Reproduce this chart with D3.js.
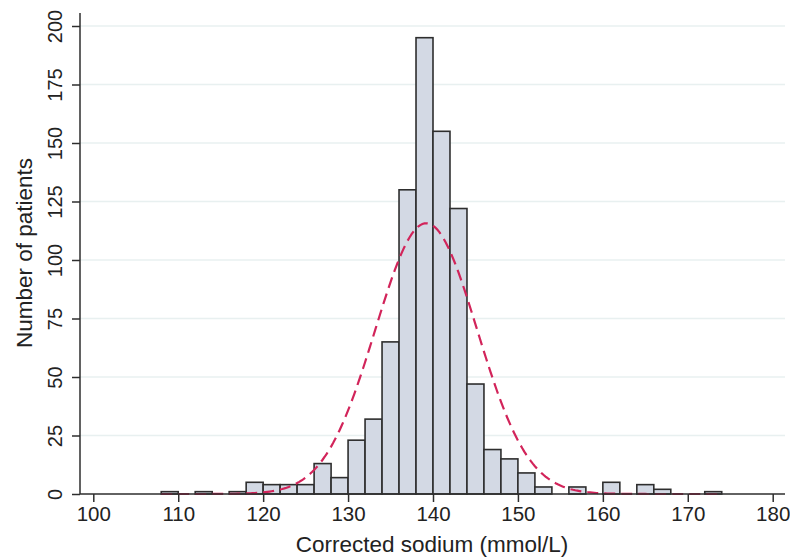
<!DOCTYPE html>
<html>
<head>
<meta charset="utf-8">
<script src="https://cdn.jsdelivr.net/npm/d3@7"></script>
<style>
  html, body { margin: 0; padding: 0; background: #fff; }
  svg { display: block; font-family: "Liberation Sans", Arial, sans-serif; }
</style>
</head>
<body>
<svg id="chart" width="790" height="560"></svg>
<script>
// Histogram bins: lower edge of each 2 mmol/L bin and its patient count
const binStarts = [108, 110, 112, 114, 116, 118, 120, 122, 124, 126, 128, 130, 132,
                   134, 136, 138, 140, 142, 144, 146, 148, 150, 152, 154, 156, 158,
                   160, 162, 164, 166, 168, 170, 172];
const binCounts = [1, 0, 1, 0, 1, 5, 4, 4, 4, 13, 7, 23, 32,
                   65, 130, 195, 155, 122, 47, 19, 15, 9, 3, 0, 3, 0,
                   5, 0, 4, 2, 0, 0, 1];
const binWidth = 2;

// Fitted normal curve parameters
const fitMean = 139.2;
const fitSD = 6.0;

const xTicks = [100, 110, 120, 130, 140, 150, 160, 170, 180];
const yTicks = [0, 25, 50, 75, 100, 125, 150, 175, 200];

const svg = d3.select("#chart");

const x = d3.scaleLinear().domain([100, 180]).range([93.3, 772.7]);
const y = d3.scaleLinear().domain([0, 200]).range([494, 26]);

const plotLeft = 80, plotRight = 785, plotTop = 13;

// horizontal grid lines
svg.append("g")
  .selectAll("line")
  .data(yTicks.filter(d => d > 0))
  .join("line")
  .attr("x1", plotLeft).attr("x2", plotRight)
  .attr("y1", d => y(d)).attr("y2", d => y(d))
  .attr("stroke", "#e8f0f0")
  .attr("stroke-width", 1.5);

// histogram bars
const bins = binStarts.map((s, i) => ({ x0: s, x1: s + binWidth, n: binCounts[i] }));
svg.append("g")
  .selectAll("rect")
  .data(bins.filter(d => d.n > 0))
  .join("rect")
  .attr("x", d => x(d.x0))
  .attr("width", d => x(d.x1) - x(d.x0))
  .attr("y", d => y(d.n))
  .attr("height", d => y(0) - y(d.n))
  .attr("fill", "#d3d9e4")
  .attr("stroke", "#2e2e2e")
  .attr("stroke-width", 1.6);

// normal density scaled to counts
const total = d3.sum(binCounts);
const density = v => total * binWidth / (fitSD * Math.sqrt(2 * Math.PI)) *
  Math.exp(-((v - fitMean) ** 2) / (2 * fitSD * fitSD));
const curveX = d3.range(108, 174.01, 0.25);
svg.append("path")
  .datum(curveX)
  .attr("fill", "none")
  .attr("stroke", "#d2245a")
  .attr("stroke-width", 2.2)
  .attr("stroke-dasharray", "11,6")
  .attr("d", d3.line().x(d => x(d)).y(d => y(density(d))));

// axes
const xAxis = svg.append("g")
  .attr("transform", `translate(0,${y(0)})`)
  .call(d3.axisBottom(x).tickValues(xTicks).tickSize(8).tickPadding(4).tickSizeOuter(0));
xAxis.select(".domain").remove();
xAxis.append("line")
  .attr("x1", plotLeft).attr("x2", plotRight)
  .attr("stroke", "#2e2e2e").attr("stroke-width", 1.5);
xAxis.selectAll(".tick line").attr("stroke", "#2e2e2e").attr("stroke-width", 1.5);
xAxis.selectAll(".tick text")
  .attr("fill", "#222")
  .style("font-size", "20.5px")
  .style("font-family", "Liberation Sans, Arial, sans-serif");

const yAxis = svg.append("g")
  .attr("transform", `translate(${plotLeft},0)`)
  .call(d3.axisLeft(y).tickValues(yTicks).tickSize(8).tickSizeOuter(0));
yAxis.select(".domain").remove();
yAxis.append("line")
  .attr("y1", y(0)).attr("y2", plotTop)
  .attr("stroke", "#2e2e2e").attr("stroke-width", 1.5);
yAxis.selectAll(".tick line").attr("stroke", "#2e2e2e").attr("stroke-width", 1.5);
yAxis.selectAll(".tick text")
  .attr("fill", "#222")
  .attr("x", null).attr("dy", null)
  .attr("text-anchor", "middle")
  .attr("transform", "translate(-18,0) rotate(-90)")
  .style("font-size", "20px")
  .style("font-family", "Liberation Sans, Arial, sans-serif");

// axis titles
svg.append("text")
  .attr("x", 432).attr("y", 552)
  .attr("text-anchor", "middle")
  .attr("fill", "#222")
  .style("font-size", "22.5px")
  .text("Corrected sodium (mmol/L)");

svg.append("text")
  .attr("transform", "translate(32,253) rotate(-90)")
  .attr("text-anchor", "middle")
  .attr("fill", "#222")
  .style("font-size", "22.5px")
  .text("Number of patients");
</script>
</body>
</html>
